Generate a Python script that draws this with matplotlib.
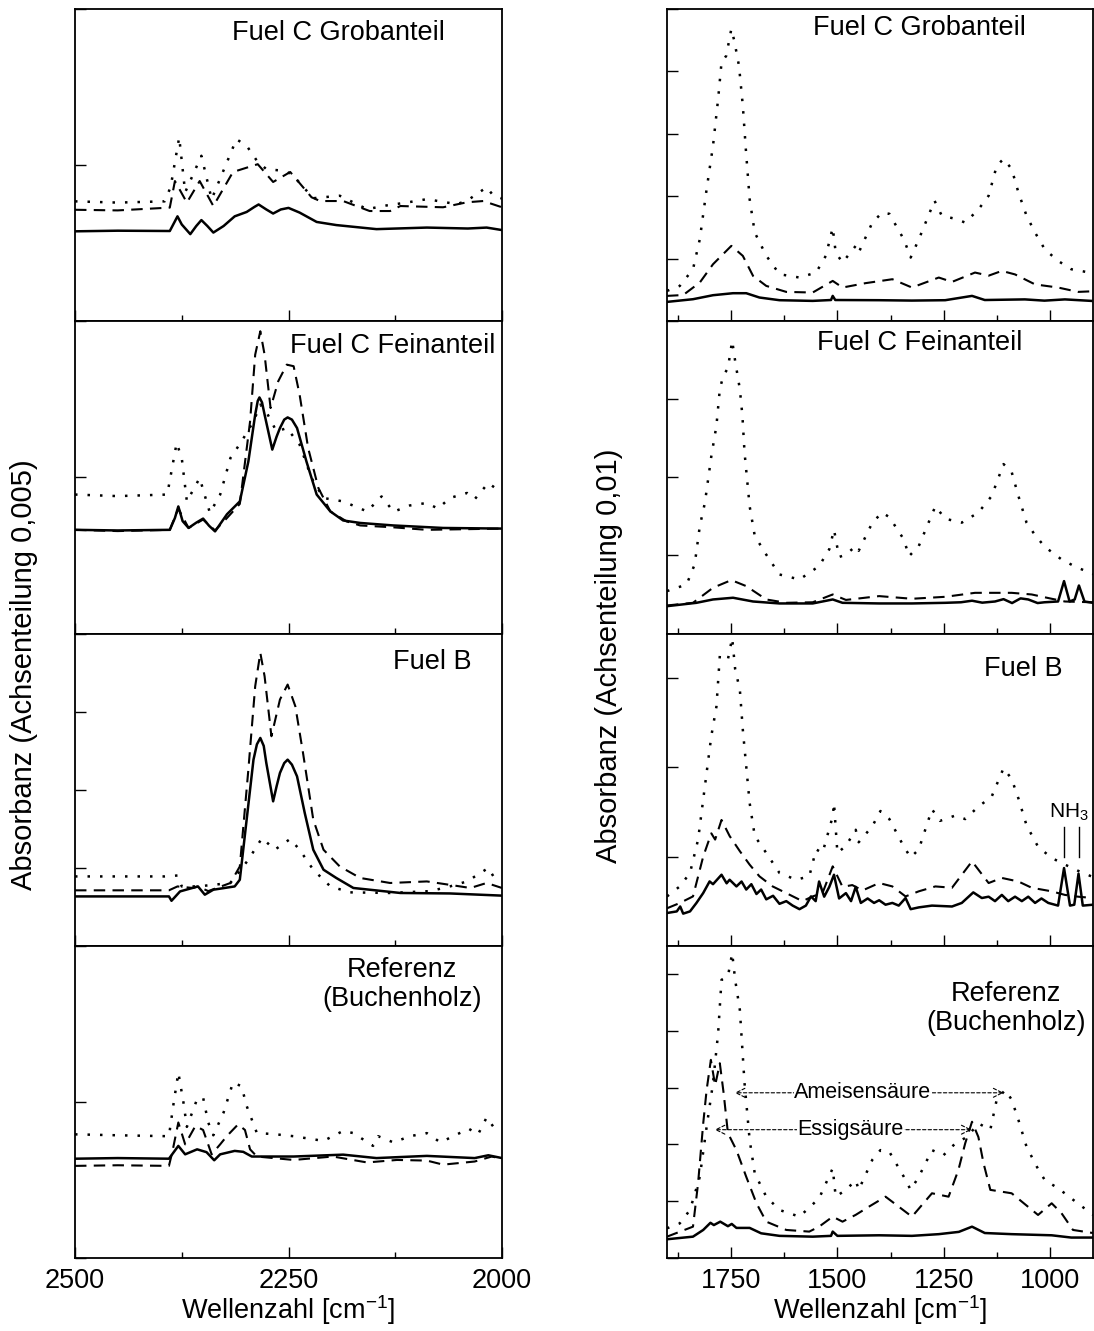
import numpy as np
from matplotlib import pyplot as plt
from matplotlib.ticker import MultipleLocator

plt.rcParams['font.family'] = ['Liberation Sans', 'DejaVu Sans']
plt.rcParams['mathtext.fontset'] = 'custom'
plt.rcParams['mathtext.rm'] = 'Liberation Sans'
plt.rcParams['mathtext.it'] = 'Liberation Sans:italic'

# spectra: (wavenumber in cm-1, absorbance in 1e-3 units)
# left column, 2500-2000 cm-1
grob_l_solid = [(2500, 2.88), (2450, 2.90), (2389, 2.89), (2384, 3.15), (2380, 3.36), (2375, 3.10),
                (2365, 2.79), (2358, 3.05), (2352, 3.24), (2345, 3.05), (2338, 2.84), (2326, 3.05),
                (2313, 3.36), (2299, 3.50), (2290, 3.66), (2285, 3.74), (2276, 3.58), (2268, 3.45),
                (2259, 3.58), (2250, 3.63), (2237, 3.48), (2217, 3.18), (2194, 3.08), (2147, 2.95),
                (2088, 3.00), (2040, 2.97), (2018, 3.00), (2000, 2.92)]
grob_l_dash = [(2500, 3.57), (2450, 3.55), (2389, 3.64), (2383, 4.49), (2369, 3.80), (2354, 4.49),
               (2338, 3.69), (2315, 4.78), (2286, 5.03), (2268, 4.46), (2248, 4.78), (2223, 3.97),
               (2213, 3.85), (2186, 3.85), (2155, 3.53), (2131, 3.53), (2119, 3.69), (2069, 3.65),
               (2041, 3.81), (2022, 3.85), (2000, 3.65)]
grob_l_dot = [(2500, 3.84), (2450, 3.80), (2395, 3.84), (2388, 4.30), (2378, 5.89), (2371, 4.13),
              (2352, 5.30), (2340, 3.91), (2322, 5.10), (2311, 5.83), (2299, 5.62), (2287, 5.14),
              (2276, 4.87), (2256, 4.82), (2246, 4.71), (2221, 3.94), (2190, 4.02), (2158, 3.59),
              (2135, 3.71), (2112, 3.80), (2088, 3.91), (2053, 3.75), (2041, 3.86), (2018, 4.29),
              (2010, 4.02), (2000, 3.93)]

fein_l_solid = [(2500, 3.32), (2450, 3.30), (2389, 3.32), (2383, 3.70), (2379, 4.07), (2374, 3.60),
                (2367, 3.38), (2358, 3.55), (2350, 3.68), (2343, 3.45), (2336, 3.27), (2322, 3.82),
                (2307, 4.23), (2297, 5.51), (2289, 7.01), (2286, 7.45), (2284, 7.56), (2281, 7.40),
                (2278, 7.01), (2269, 5.89), (2264, 6.30), (2260, 6.58), (2255, 6.85), (2251, 6.92),
                (2246, 6.85), (2240, 6.58), (2229, 5.51), (2217, 4.45), (2201, 3.91), (2186, 3.62),
                (2166, 3.54), (2127, 3.46), (2069, 3.38), (2000, 3.36)]
fein_l_dash = [(2500, 3.32), (2450, 3.28), (2389, 3.32), (2379, 4.00), (2367, 3.38), (2350, 3.65),
               (2336, 3.30), (2322, 3.70), (2307, 4.15), (2295, 6.79), (2289, 8.93), (2283, 9.68),
               (2278, 8.93), (2271, 7.22), (2262, 8.08), (2252, 8.61), (2244, 8.56), (2237, 7.65),
               (2227, 5.94), (2215, 4.66), (2201, 3.91), (2182, 3.59), (2166, 3.46), (2127, 3.40),
               (2088, 3.32), (2000, 3.36)]
fein_l_dot = [(2500, 4.45), (2450, 4.40), (2392, 4.45), (2381, 6.10), (2375, 5.62), (2369, 4.23),
              (2354, 4.98), (2342, 3.86), (2330, 4.45), (2318, 5.62), (2305, 6.15), (2291, 6.79),
              (2283, 7.33), (2276, 7.10), (2264, 6.47), (2252, 6.58), (2237, 6.05), (2223, 4.98),
              (2209, 4.34), (2186, 4.23), (2158, 3.91), (2141, 4.39), (2127, 3.90), (2108, 4.10),
              (2088, 4.18), (2075, 4.00), (2061, 4.34), (2041, 4.50), (2032, 4.30), (2016, 4.82),
              (2000, 4.50)]

fuelb_l_solid = [(2500, 3.16), (2450, 3.16), (2390, 3.16), (2387, 2.88), (2377, 3.48), (2356, 3.80),
                 (2348, 3.27), (2338, 3.59), (2313, 3.80), (2307, 4.23), (2299, 8.08), (2291, 11.92),
                 (2287, 12.90), (2283, 13.31), (2279, 12.80), (2276, 11.71), (2268, 9.25),
                 (2264, 10.20), (2260, 11.07), (2255, 11.70), (2251, 11.92), (2246, 11.60),
                 (2240, 10.85), (2231, 8.51), (2221, 6.15), (2209, 4.87), (2194, 4.34), (2174, 3.70),
                 (2119, 3.38), (2061, 3.35), (2000, 3.21)]
fuelb_l_dash = [(2500, 3.55), (2450, 3.55), (2390, 3.55), (2380, 3.80), (2362, 3.70), (2356, 3.80),
                (2344, 3.50), (2318, 4.02), (2307, 5.08), (2297, 11.28), (2289, 16.62), (2283, 18.76),
                (2278, 17.26), (2270, 13.42), (2260, 15.77), (2251, 16.73), (2242, 15.34), (2233, 12.35),
                (2221, 8.08), (2209, 6.15), (2190, 5.08), (2166, 4.34), (2131, 4.02), (2088, 4.12),
                (2061, 3.90), (2037, 3.70), (2018, 4.02), (2000, 3.70)]
fuelb_l_dot = [(2500, 4.44), (2450, 4.44), (2395, 4.44), (2380, 4.50), (2375, 3.80), (2356, 3.80),
               (2318, 4.02), (2297, 5.51), (2281, 6.90), (2266, 6.15), (2248, 6.84), (2237, 6.15),
               (2221, 4.87), (2201, 3.80), (2178, 3.42), (2131, 3.38), (2084, 3.50), (2061, 3.80),
               (2041, 4.12), (2016, 4.98), (2010, 4.44), (2000, 4.55)]

ref_l_solid = [(2500, 3.18), (2450, 3.20), (2390, 3.18), (2379, 3.59), (2371, 3.32), (2357, 3.48),
               (2346, 3.39), (2337, 3.13), (2330, 3.32), (2313, 3.43), (2303, 3.40), (2293, 3.25),
               (2244, 3.25), (2186, 3.31), (2147, 3.20), (2088, 3.27), (2032, 3.20), (2016, 3.29),
               (2000, 3.20)]
ref_l_dash = [(2500, 2.95), (2450, 2.97), (2390, 2.95), (2386, 3.40), (2379, 4.34), (2371, 3.64),
              (2359, 4.23), (2350, 4.10), (2340, 3.32), (2330, 3.64), (2322, 3.91), (2309, 4.28),
              (2301, 4.10), (2295, 3.48), (2287, 3.25), (2244, 3.14), (2198, 3.25), (2158, 3.06),
              (2123, 3.14), (2088, 3.12), (2069, 2.99), (2032, 3.09), (2012, 3.25), (2000, 3.18)]
ref_l_dot = [(2500, 3.96), (2450, 3.93), (2390, 3.90), (2385, 4.87), (2379, 5.94), (2373, 4.98),
             (2369, 4.20), (2357, 5.09), (2350, 5.14), (2344, 4.34), (2338, 3.93), (2326, 4.66),
             (2315, 5.62), (2305, 5.50), (2299, 4.87), (2287, 4.00), (2268, 3.97), (2244, 3.90),
             (2209, 3.75), (2186, 4.07), (2174, 4.00), (2151, 3.59), (2145, 3.90), (2127, 3.70),
             (2108, 3.90), (2088, 4.00), (2072, 3.70), (2061, 3.85), (2039, 4.14), (2028, 3.96),
             (2018, 4.50), (2010, 4.20), (2000, 4.10)]

# right column, 1900-900 cm-1
grob_r_solid = [(1900, 3.1), (1839, 3.53), (1792, 4.17), (1745, 4.49), (1714, 4.49), (1683, 3.80),
                (1636, 3.37), (1558, 3.26), (1515, 3.4), (1511, 4.06), (1505, 3.4), (1402, 3.37),
                (1325, 3.31), (1247, 3.37), (1184, 4.06), (1154, 3.4), (1060, 3.5), (1014, 3.3),
                (966, 3.5), (904, 3.26)]
grob_r_dash = [(1900, 4.06), (1862, 4.2), (1823, 6.2), (1792, 9.13), (1749, 12.07), (1722, 10.47),
               (1698, 7.26), (1667, 5.66), (1620, 4.70), (1558, 4.6), (1511, 6.46), (1488, 5.4),
               (1434, 6.1), (1371, 6.73), (1325, 5.4), (1262, 7.0), (1231, 6.3), (1177, 7.8),
               (1145, 7.3), (1114, 8.06), (1083, 7.5), (1036, 5.9), (982, 5.4), (935, 4.7), (900, 4.8)]
grob_r_dot = [(1900, 4.86), (1870, 5.66), (1839, 8.33), (1823, 13.14), (1807, 21.15), (1792, 28.1),
              (1780, 35.58), (1772, 41.46), (1761, 42.5), (1749, 46.8), (1742, 44.9), (1731, 40.9),
              (1722, 34.5), (1715, 27.6), (1706, 19.55), (1694, 14.2), (1667, 10.5), (1636, 7.53),
              (1589, 7.0), (1550, 7.8), (1527, 10.5), (1511, 15.0), (1504, 11.0), (1488, 9.4),
              (1457, 12.07), (1450, 11.0), (1418, 15.8), (1395, 17.4), (1378, 17.2), (1344, 13.1),
              (1328, 10.2), (1309, 13.1), (1272, 19.3), (1255, 16.9), (1223, 16.4), (1200, 15.8),
              (1169, 17.9), (1145, 20.1), (1126, 24.9), (1110, 26.0), (1091, 24.4), (1075, 20.6),
              (1056, 16.9), (1036, 14.2), (1013, 11.5), (982, 9.67), (951, 8.33), (900, 7.7)]

fein_r_solid = [(1900, 3.5), (1831, 3.93), (1792, 4.36), (1745, 4.58), (1698, 4.1), (1636, 3.85),
                (1558, 3.85), (1511, 4.36), (1488, 3.93), (1402, 3.85), (1325, 3.85), (1247, 3.93),
                (1210, 4.0), (1184, 4.2), (1160, 3.95), (1130, 4.1), (1110, 4.4), (1090, 3.9),
                (1070, 4.5), (1052, 4.36), (1030, 3.9), (1014, 4.0), (982, 4.1), (968, 6.71),
                (955, 4.1), (943, 4.36), (933, 6.15), (920, 4.1), (900, 3.93)]
fein_r_dash = [(1900, 3.59), (1839, 3.93), (1792, 5.86), (1749, 6.84), (1714, 6.07), (1667, 4.36),
               (1620, 3.93), (1558, 4.0), (1511, 5.0), (1480, 4.3), (1402, 4.79), (1325, 4.45),
               (1247, 4.7), (1177, 5.21), (1091, 5.21), (1044, 5.0), (997, 4.45), (966, 4.1), (900, 4.0)]
fein_r_dot = [(1900, 5.43), (1854, 6.28), (1835, 8.85), (1823, 13.76), (1811, 16.76), (1796, 22.7),
              (1784, 26.6), (1776, 31.3), (1768, 33.0), (1757, 34.0), (1747, 37.5), (1740, 34.9),
              (1729, 31.3), (1723, 27.9), (1718, 23.2), (1706, 16.3), (1694, 12.5), (1667, 10.1),
              (1636, 7.56), (1589, 6.92), (1543, 8.63), (1519, 10.8), (1508, 13.3), (1496, 9.8),
              (1480, 10.1), (1457, 11.2), (1450, 10.6), (1418, 14.2), (1395, 15.5), (1378, 14.9),
              (1344, 12.05), (1332, 9.9), (1309, 11.2), (1270, 16.3), (1247, 14.7), (1208, 14.2),
              (1169, 15.5), (1138, 17.6), (1110, 21.7), (1091, 20.7), (1075, 17.6), (1056, 14.2),
              (1036, 12.6), (1013, 11.1), (974, 9.49), (943, 8.6), (900, 7.6)]

fuelb_r_solid = [(1900, 3.67), (1877, 3.85), (1869, 4.4), (1862, 3.6), (1846, 3.85), (1831, 4.79),
                 (1815, 5.91), (1800, 7.21), (1792, 6.9), (1772, 7.96), (1760, 7.0), (1753, 7.4),
                 (1737, 6.65), (1725, 7.2), (1714, 6.3), (1702, 6.9), (1690, 5.8), (1679, 6.3),
                 (1667, 5.2), (1651, 5.6), (1636, 4.7), (1620, 5.0), (1605, 4.5), (1589, 4.1),
                 (1574, 4.5), (1562, 5.53), (1551, 5.0), (1543, 7.2), (1531, 5.5), (1519, 6.6),
                 (1508, 7.96), (1496, 5.3), (1480, 5.9), (1468, 5.0), (1457, 6.6), (1445, 4.8),
                 (1429, 5.3), (1414, 4.8), (1402, 5.1), (1387, 4.6), (1371, 4.8), (1356, 4.5),
                 (1340, 5.35), (1328, 4.1), (1309, 4.3), (1278, 4.5), (1231, 4.4), (1208, 4.8),
                 (1181, 5.98), (1161, 5.35), (1145, 5.5), (1130, 5.0), (1114, 5.7), (1099, 5.0),
                 (1083, 5.5), (1067, 5.0), (1052, 5.5), (1036, 4.8), (1021, 5.3), (1005, 4.8),
                 (982, 4.5), (968, 8.71), (954, 4.5), (944, 4.6), (934, 8.08), (924, 4.5), (900, 4.6)]
fuelb_r_dash = [(1900, 4.2), (1870, 4.79), (1839, 5.53), (1815, 10.0), (1796, 12.6), (1787, 11.9),
                (1772, 14.1), (1753, 12.3), (1729, 10.6), (1706, 9.09), (1683, 7.78), (1652, 6.65),
                (1620, 5.9), (1582, 5.0), (1558, 5.53), (1535, 5.9), (1511, 8.9), (1488, 6.6),
                (1465, 6.8), (1441, 6.2), (1402, 7.03), (1371, 6.65), (1340, 5.53), (1309, 6.1),
                (1270, 6.65), (1231, 6.5), (1184, 9.46), (1145, 7.03), (1114, 7.6), (1075, 7.2),
                (1044, 6.5), (997, 6.1), (966, 5.7), (935, 5.5), (900, 5.35)]
fuelb_r_dot = [(1900, 5.53), (1870, 6.65), (1846, 8.16), (1827, 11.9), (1811, 17.9), (1796, 23.5),
               (1784, 26.8), (1776, 32.5), (1757, 32.1), (1747, 34.5), (1740, 31.0), (1729, 28.7),
               (1722, 24.2), (1714, 20.1), (1706, 16.0), (1694, 12.3), (1667, 10.4), (1636, 8.16),
               (1597, 7.4), (1566, 7.78), (1550, 10.8), (1535, 10.4), (1511, 14.5), (1508, 16.0),
               (1500, 10.4), (1480, 11.2), (1457, 13.0), (1450, 11.6), (1418, 13.4), (1399, 15.1),
               (1378, 14.2), (1344, 11.1), (1328, 9.9), (1309, 10.8), (1278, 15.3), (1259, 14.0),
               (1223, 14.6), (1200, 14.2), (1169, 15.6), (1138, 16.7), (1110, 19.9), (1091, 18.7),
               (1075, 16.5), (1056, 13.5), (1029, 11.1), (997, 9.84), (966, 9.1), (935, 8.4), (900, 7.7)]

ref_r_solid = [(1900, 3.3), (1839, 3.76), (1815, 4.94), (1798, 6.2), (1790, 5.8), (1775, 6.4),
               (1757, 5.6), (1748, 6.0), (1737, 5.3), (1706, 5.3), (1679, 4.35), (1636, 3.9),
               (1558, 3.76), (1515, 3.9), (1511, 4.65), (1500, 3.9), (1402, 4.0), (1325, 3.9),
               (1262, 4.2), (1215, 4.6), (1184, 5.52), (1154, 4.4), (1091, 4.2), (997, 4.0),
               (951, 3.6), (900, 3.6)]
ref_r_dash = [(1900, 3.76), (1839, 5.52), (1827, 13.2), (1815, 23.7), (1807, 29.6), (1797, 34.9),
              (1787, 30.4), (1776, 34.3), (1767, 29.0), (1757, 22.0), (1737, 19.0), (1714, 14.3),
              (1690, 9.64), (1667, 6.4), (1620, 4.94), (1566, 4.65), (1543, 5.52), (1511, 7.28),
              (1488, 6.4), (1457, 7.6), (1426, 9.04), (1387, 10.8), (1356, 9.04), (1325, 7.28),
              (1278, 11.4), (1239, 10.8), (1216, 15.5), (1200, 20.2), (1184, 24.0), (1169, 21.3),
              (1157, 16.7), (1141, 12.0), (1091, 11.4), (1029, 7.58), (997, 9.64), (974, 7.9),
              (947, 4.94), (900, 4.4)]
ref_r_dot = [(1900, 5.23), (1870, 6.1), (1846, 8.46), (1823, 14.3), (1807, 23.1), (1792, 30.8),
             (1780, 39.6), (1772, 49.0), (1757, 49.6), (1747, 53.7), (1740, 49.0), (1729, 43.7),
             (1723, 36.7), (1718, 30.8), (1706, 20.8), (1694, 14.9), (1667, 10.8), (1636, 8.46),
             (1589, 7.28), (1543, 10.5), (1511, 15.8), (1504, 10.8), (1480, 12.0), (1457, 13.7),
             (1450, 12.0), (1418, 17.3), (1399, 19.0), (1378, 18.7), (1344, 14.3), (1328, 12.0),
             (1309, 14.3), (1278, 19.0), (1251, 18.1), (1223, 20.2), (1196, 21.3), (1169, 23.7),
             (1141, 22.6), (1126, 27.9), (1106, 29.6), (1091, 27.9), (1075, 24.3), (1056, 19.6),
             (1032, 16.1), (1013, 13.7), (982, 12.3), (951, 10.5), (900, 7.6)]

titles = ['Fuel C Grobanteil', 'Fuel C Feinanteil', 'Fuel B', 'Referenz\n(Buchenholz)']
left_curves = [(grob_l_solid, grob_l_dash, grob_l_dot), (fein_l_solid, fein_l_dash, fein_l_dot),
               (fuelb_l_solid, fuelb_l_dash, fuelb_l_dot), (ref_l_solid, ref_l_dash, ref_l_dot)]
right_curves = [(grob_r_solid, grob_r_dash, grob_r_dot), (fein_r_solid, fein_r_dash, fein_r_dot),
                (fuelb_r_solid, fuelb_r_dash, fuelb_r_dot), (ref_r_solid, ref_r_dash, ref_r_dot)]
left_ymax = [10, 10, 20, 10]
right_ymax = [50, 40, 35, 55]

# panel text placement (axes fraction)
left_title_pos = [(0.616, 0.923), (0.743, 0.92), (0.836, 0.91), (0.766, 0.875)]
right_title_pos = [(0.592, 0.94), (0.592, 0.93), (0.836, 0.885), (0.796, 0.80)]

W, H = 1094, 1331
fig = plt.figure(figsize=(W / 100, H / 100), dpi=100)

styles = [dict(ls='-', lw=1.8, zorder=3),
          dict(ls=(0, (5.5, 3.5)), lw=1.5, zorder=2),
          dict(ls=(0, (1, 4)), lw=1.8, zorder=2)]
FS = 19.5
ph = 312.25


def make_panel(col, row, curves, ymax, ystep, xlim, major, minor, title, tpos):
    left = [75, 667][col]
    width = [427, 426][col]
    top = 9 + row * ph
    ax = fig.add_axes([left / W, 1 - (top + ph) / H, width / W, ph / H])
    for c, st in zip(curves, styles):
        x, y = zip(*c)
        ax.plot(x, y, color='black', **st)
    ax.set_xlim(*xlim)
    ax.set_ylim(0, ymax)
    ax.xaxis.set_major_locator(MultipleLocator(major))
    ax.xaxis.set_minor_locator(MultipleLocator(minor))
    ax.yaxis.set_major_locator(MultipleLocator(ystep))
    ax.tick_params(which='both', direction='in', top=False, right=False, labelleft=False,
                   labelsize=FS, pad=7, width=1.0)
    ax.tick_params(which='major', length=8)
    ax.tick_params(which='minor', length=4)
    if row < 3:
        ax.tick_params(labelbottom=False)
    for s in ax.spines.values():
        s.set_linewidth(1.3)
    ax.text(tpos[0], tpos[1], title, transform=ax.transAxes, ha='center', va='center',
            fontsize=FS, linespacing=1.15)
    return ax


for i in range(4):
    make_panel(0, i, left_curves[i], left_ymax[i], 5, (2500, 2000), 250, 125,
               titles[i], left_title_pos[i])
    axr = make_panel(1, i, right_curves[i], right_ymax[i], 10, (1900, 900), 250, 125,
                     titles[i], right_title_pos[i])
    if i == 2:
        # NH3 marker lines
        for wn in (968, 934):
            axr.plot([wn, wn], [9.9, 13.35], color='black', lw=1.0)
        axr.text(957, 15.0, 'NH$_3$', ha='center', va='center', fontsize=15)
    if i == 3:
        for x0, x1, yv, lab, xt in [(1741, 1110, 29.1, 'Ameisensäure', 1440),
                                    (1788, 1185, 22.6, 'Essigsäure', 1470)]:
            axr.annotate('', xy=(x0, yv), xytext=(x1, yv),
                         arrowprops=dict(arrowstyle='<->', ls=(0, (3, 2)), lw=0.8,
                                         shrinkA=0, shrinkB=0, mutation_scale=16))
            axr.text(xt, yv, lab, ha='center', va='center', fontsize=15.5, zorder=5,
                     bbox=dict(facecolor='white', edgecolor='none', pad=0.3))

fig.text(24 / W, 1 - 675 / H, 'Absorbanz (Achsenteilung 0,005)', rotation=90,
         ha='center', va='center', fontsize=21)
fig.text(609 / W, 1 - 656 / H, 'Absorbanz (Achsenteilung 0,01)', rotation=90,
         ha='center', va='center', fontsize=21)
fig.text(288.5 / W, 1 - 1310 / H, 'Wellenzahl [cm$^{-1}$]', ha='center', va='center', fontsize=FS)
fig.text(880 / W, 1 - 1310 / H, 'Wellenzahl [cm$^{-1}$]', ha='center', va='center', fontsize=FS)

plt.savefig('out.png', dpi=100)
